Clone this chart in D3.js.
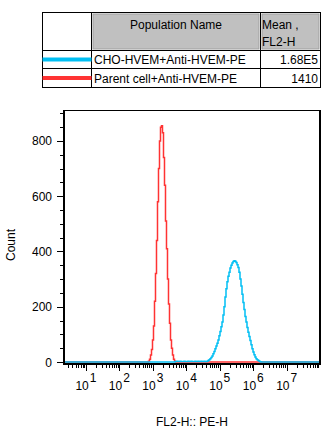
<!DOCTYPE html>
<html><head><meta charset="utf-8">
<script src="https://cdn.jsdelivr.net/npm/d3@7"></script>
<style>
html,body{margin:0;padding:0;background:#fff;}
svg{display:block;font-family:"Liberation Sans",Arial,sans-serif;}
</style></head>
<body>
<svg id="c" width="327" height="434"></svg>
<script>
// ---- data ----
const populations = ["CHO-HVEM+Anti-HVEM-PE", "Parent cell+Anti-HVEM-PE"];
const meanValues = ["1.68E5", "1410"];
const seriesColors = ["#00bff3", "#ff3333"];
const tableHeaders = ["Population Name", "Mean ,", "FL2-H"];
const xTitle = "FL2-H:: PE-H";
const yTitle = "Count";
const xDomainLog = [0.35, 8.0];     // log10 range of the axis
const nBins = 256;
const xTickExps = [1, 2, 3, 4, 5, 6, 7];
const yTicks = [0, 200, 400, 600, 800];
const yMax = 912;
// histogram counts (per bin), with starting log10 value
const redStartLog = 2.845;
const redCounts = [0, 3, 10, 25, 45, 80, 130, 220, 320, 440, 580, 700, 800, 850, 855, 830, 740, 640, 510, 410, 300, 210, 140, 80, 50, 25, 10, 3, 0];
const cyanStartLog = 3.667;
const cyanCounts = [2, 2, 3, 2, 2, 3, 2, 2, 2, 3, 2, 2, 2, 3, 2, 2, 3, 2, 2, 2, 3, 2, 2, 3, 2, 2, 3, 2, 2, 3, 2, 2,
  3, 5, 8, 12, 16, 22, 30, 38, 48, 58, 68, 80, 95, 110, 128, 145, 170, 200, 235, 265, 290, 310, 325, 340, 350, 358,
  364, 366, 365, 360, 352, 342, 325, 300, 275, 245, 215, 190, 165, 145, 125, 108, 92, 78, 62, 48, 36, 26, 18, 12, 8, 5, 3, 1, 0];

// ---- layout ----
const svg = d3.select("#c");
const L = 64, R = 320, T = 110, B = 362, AX = 364;
const x = d3.scaleLog().domain([10 ** xDomainLog[0], 10 ** xDomainLog[1]]).range([L, R]);
const y = d3.scaleLinear().domain([0, yMax]).range([B, T]);
const binW = (xDomainLog[1] - xDomainLog[0]) / nBins;

// ---- table ----
const tb = {x0: 42.5, x1: 320.5, y0: 12.5, y1: 87.5, c1: 91.5, c2: 260.5, r1: 50.5, r2: 68.5};
const tg = svg.append("g");
[[tb.c1 + 1.5, tb.c2 - 1.5], [tb.c2 + 1.5, tb.x1 - 1.5]].forEach(([a, b]) => {
  tg.append("rect").attr("x", a).attr("y", tb.y0 + 1.5).attr("width", b - a).attr("height", tb.r1 - tb.y0 - 3)
    .attr("fill", "#c0c0c0").attr("stroke", "#a0a0a0").attr("stroke-width", 1);
});
tg.append("rect").attr("x", tb.x0).attr("y", tb.y0).attr("width", tb.x1 - tb.x0).attr("height", tb.y1 - tb.y0)
  .attr("fill", "none").attr("stroke", "#000");
[tb.c1, tb.c2].forEach(cx => tg.append("line").attr("x1", cx).attr("x2", cx).attr("y1", tb.y0).attr("y2", tb.y1).attr("stroke", "#000"));
[tb.r1, tb.r2].forEach(ry => tg.append("line").attr("x1", tb.x0).attr("x2", tb.x1).attr("y1", ry).attr("y2", ry).attr("stroke", "#000"));
tg.append("text").attr("x", (tb.c1 + tb.c2) / 2).attr("y", 28.5).attr("text-anchor", "middle").attr("font-size", 12).text(tableHeaders[0]);
tg.append("text").attr("x", tb.c2 + 1.5).attr("y", 28.5).attr("font-size", 12).text(tableHeaders[1]);
tg.append("text").attr("x", tb.c2 + 1.5).attr("y", 46).attr("font-size", 12).text(tableHeaders[2]);
const rowY = [59.5, 78];
populations.forEach((p, i) => {
  tg.append("line").attr("x1", tb.x0).attr("x2", tb.c1).attr("y1", rowY[i]).attr("y2", rowY[i])
    .attr("stroke", seriesColors[i]).attr("stroke-width", 4);
  tg.append("text").attr("x", tb.c1 + 2.5).attr("y", rowY[i] + 4.5).attr("font-size", 12).text(p);
  tg.append("text").attr("x", tb.x1 - 2.5).attr("y", rowY[i] + 4.5).attr("text-anchor", "end").attr("font-size", 12).text(meanValues[i]);
});

// ---- histograms ----
function histPoints(startLog, counts) {
  const pts = [[x.domain()[0], 0]];
  counts.forEach((c, i) => pts.push([10 ** (startLog + i * binW), c]));
  pts.push([10 ** (startLog + counts.length * binW), 0]);
  pts.push([x.domain()[1], 0]);
  return pts;
}
const line = d3.line().x(d => x(d[0])).y(d => y(d[1])).curve(d3.curveStepAfter);
svg.append("path").attr("d", line(histPoints(redStartLog, redCounts)))
  .attr("fill", "none").attr("stroke", seriesColors[1]).attr("stroke-width", 1.5);
svg.append("path").attr("d", line(histPoints(cyanStartLog, cyanCounts)))
  .attr("fill", "none").attr("stroke", seriesColors[0]).attr("stroke-width", 1.5);

// ---- frame ----
svg.append("line").attr("x1", L).attr("x2", R).attr("y1", T + 0.5).attr("y2", T + 0.5).attr("stroke", "#000").attr("stroke-width", 1);
svg.append("line").attr("x1", R).attr("x2", R).attr("y1", T).attr("y2", AX + 1).attr("stroke", "#000").attr("stroke-width", 2);

// ---- y axis ----
const yAxis = svg.append("g").attr("transform", `translate(${L},0)`);
yAxis.append("line").attr("x1", 0).attr("x2", 0).attr("y1", T).attr("y2", AX + 1).attr("stroke", "#000").attr("stroke-width", 2);
d3.range(0, yMax, 50).forEach(v => {
  const major = v % 200 === 0;
  yAxis.append("line").attr("x1", major ? -7 : -4).attr("x2", 0).attr("y1", Math.round(y(v)) + 0.5).attr("y2", Math.round(y(v)) + 0.5)
    .attr("stroke", "#000").attr("stroke-width", 1);
});
yTicks.forEach(v => {
  yAxis.append("text").attr("x", -12).attr("y", y(v) + 4.5).attr("text-anchor", "end").attr("font-size", 12).text(v);
});
svg.append("text").attr("transform", `translate(15,245) rotate(-90)`).attr("text-anchor", "middle").attr("font-size", 12).text(yTitle);

// ---- x axis ----
const xAxis = svg.append("g");
xAxis.append("line").attr("x1", L - 1).attr("x2", R + 1).attr("y1", AX).attr("y2", AX).attr("stroke", "#000").attr("stroke-width", 2);
for (let e = 0; e <= 7; e++) {
  for (let m = 1; m <= 9; m++) {
    const v = m * 10 ** e;
    if (v < x.domain()[0] || v > x.domain()[1]) continue;
    const px = Math.round(x(v)) + 0.5;
    xAxis.append("line").attr("x1", px).attr("x2", px).attr("y1", AX).attr("y2", AX + (m === 1 ? 7 : 4))
      .attr("stroke", "#000").attr("stroke-width", 1);
  }
}
xTickExps.forEach(e => {
  const px = x(10 ** e);
  xAxis.append("text").attr("x", px + 3).attr("y", 390).attr("text-anchor", "end").attr("font-size", 12).text("10");
  xAxis.append("text").attr("x", px + 4).attr("y", 382).attr("font-size", 12).text(e);
});
svg.append("text").attr("x", 192).attr("y", 426).attr("text-anchor", "middle").attr("font-size", 12).text(xTitle);
</script>
</body></html>
